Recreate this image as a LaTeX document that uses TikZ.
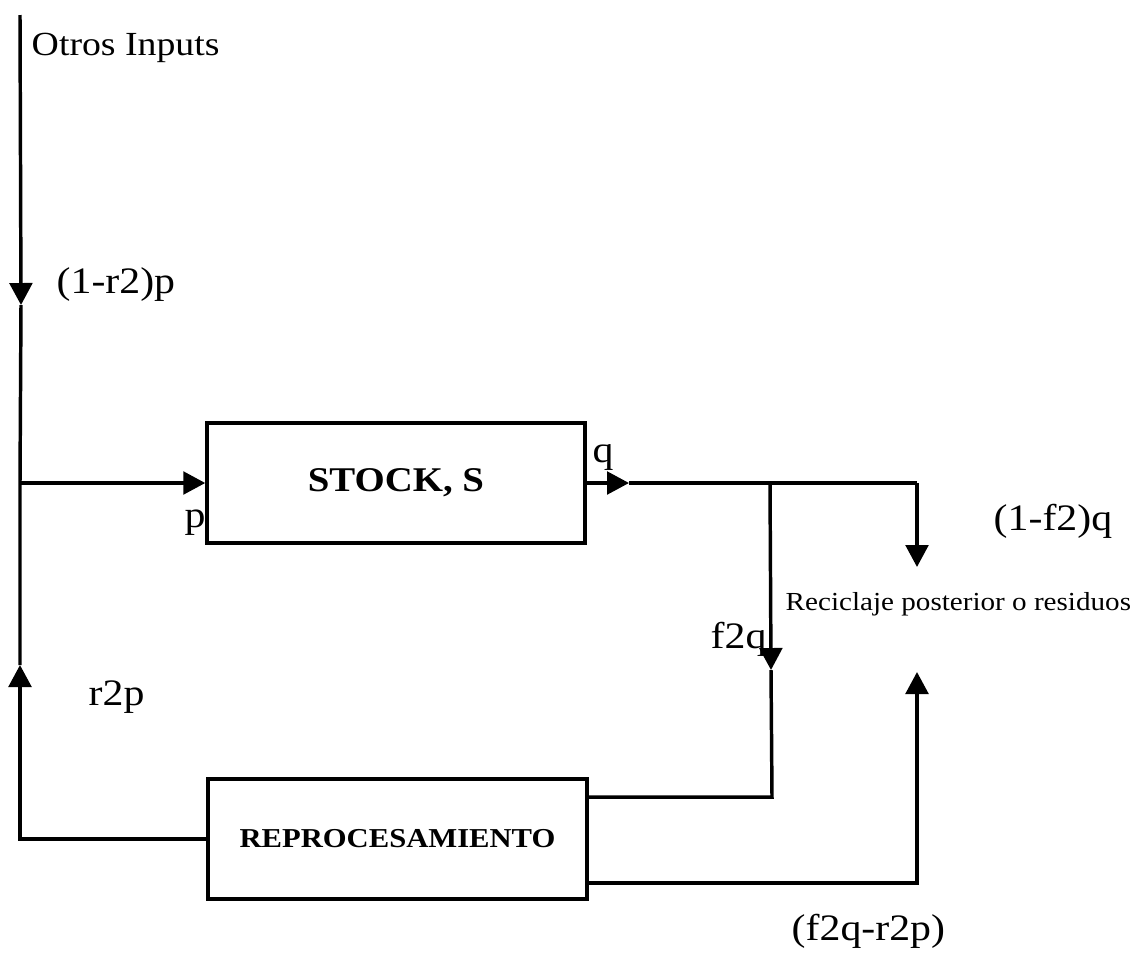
\documentclass[tikz,border=0pt]{standalone}
\usepackage{fontspec}
\setmainfont[FakeStretch=1.12]{Liberation Serif}
\usetikzlibrary{arrows.meta}
\begin{document}
\begin{tikzpicture}[x=0.75pt,y=-0.75pt,
  line width=2.6pt,
  flow/.style={-{Triangle[length=16.5pt,width=17pt]}},
  boxnode/.style={draw,line width=2.6pt,inner sep=0pt,font=\bfseries},
  lbl/.style={anchor=base west,inner sep=0pt,font=\fontsize{28pt}{30pt}\selectfont}]
\useasboundingbox (0,0) rectangle (1134,954);
\fill[white] (0,0) rectangle (1134,954);

% boxes
\node[boxnode,minimum width=283.5pt,minimum height=90pt,
      font=\fontsize{26pt}{28pt}\selectfont\bfseries] (stock) at (396,483) {STOCK, S};
\node[boxnode,minimum width=284pt,minimum height=90pt,
      font=\fontsize{20.5pt}{22pt}\selectfont\bfseries] (repro) at (397.5,839) {REPROCESAMIENTO};

% coordinates
\coordinate (top) at (20,15);
\coordinate (dn) at (21,305);
\coordinate (jin) at (20,483);
\coordinate (up) at (20,665);
\coordinate (bl) at (20,839);
\coordinate (qa) at (629,483);
\coordinate (br) at (770,483);
\coordinate (tr) at (917,483);
\coordinate (ra) at (917,567);
\coordinate (fa) at (771,670);
\coordinate (fb) at (772,797);
\coordinate (rb) at (917,883);
\coordinate (ua) at (917,672);

% left column
\draw[flow] (top) -- (dn);
\draw (dn) -- (jin) -- (up);
\draw[flow] (jin) -- (stock.west);
\draw[flow] (repro.west) -- (bl) -- (up);

% output of stock
\draw[flow] (stock.east) -- (qa);
\draw (qa) -- (br) -- (tr);
\draw[flow] (tr) -- (ra);
\draw[flow] (br) -- (fa);

% outputs of reprocessing
\draw (repro.east |- fb) -- (fb) -- (fa);
\draw[flow] (repro.east |- rb) -- (rb) -- (ua);

% labels
\node[lbl,font=\fontsize{25.3pt}{27pt}\selectfont] (otros) at (30,55) {Otros Inputs};
\node[lbl] (l1r2p) at (55,293) {(1-r2)p};
\node[lbl] (lp) at (183,527) {p};
\node[lbl] (lq) at (591,462) {q};
\node[lbl] (l1f2q) at (992,530) {(1-f2)q};
\node[lbl,font=\fontsize{19.5pt}{21pt}\selectfont] (recic) at (784,610) {Reciclaje posterior o residuos};
\node[lbl] (lf2q) at (709,648) {f2q};
\node[lbl] (lr2p) at (87,705) {r2p};
\node[lbl] (lf2qr2p) at (790,940) {(f2q-r2p)};
\end{tikzpicture}
\end{document}
